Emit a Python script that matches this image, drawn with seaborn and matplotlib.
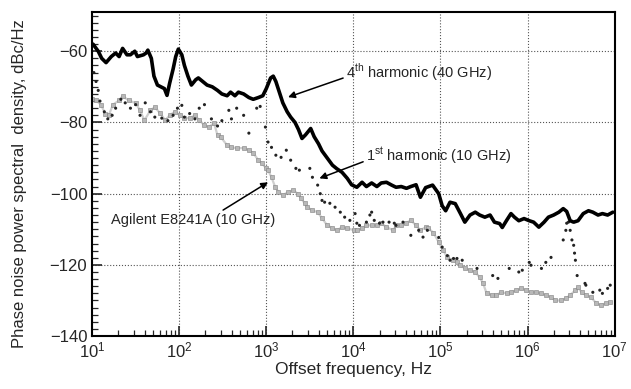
import numpy as np
import pandas as pd
import matplotlib
matplotlib.use('Agg')
import matplotlib.pyplot as plt
from matplotlib.ticker import LogLocator, NullFormatter, FixedLocator
import seaborn as sns

# log10 of offset frequency (Hz) and phase noise (dBc/Hz)
h4_logf = [1.01, 1.07, 1.11, 1.16, 1.22, 1.27, 1.31, 1.35, 1.40, 1.44, 1.49, 1.52, 1.59, 1.62, 1.64,
           1.68, 1.71, 1.75, 1.79, 1.83, 1.86, 1.89, 1.93, 1.96, 1.99, 2.03, 2.06, 2.10, 2.14, 2.19,
           2.22, 2.27, 2.32, 2.38, 2.44, 2.49, 2.55, 2.59, 2.64, 2.68, 2.74, 2.80, 2.85, 2.91, 2.96,
           3.00, 3.05, 3.08, 3.11, 3.15, 3.19, 3.24, 3.28, 3.33, 3.37, 3.41, 3.45, 3.51, 3.55, 3.60,
           3.64, 3.70, 3.76, 3.81, 3.87, 3.93, 3.98, 4.04, 4.10, 4.15, 4.21, 4.27, 4.32, 4.38, 4.44,
           4.49, 4.55, 4.61, 4.66, 4.72, 4.77, 4.83, 4.91, 4.98, 5.02, 5.06, 5.11, 5.17, 5.23, 5.28,
           5.34, 5.40, 5.45, 5.51, 5.57, 5.62, 5.68, 5.71, 5.76, 5.81, 5.85, 5.90, 5.96, 6.02, 6.07,
           6.13, 6.19, 6.24, 6.30, 6.36, 6.41, 6.45, 6.49, 6.53, 6.58, 6.64, 6.70, 6.75, 6.81, 6.86,
           6.92, 6.98]
h4_db = [-58, -60, -62, -63.2, -61.5, -60.5, -61.5, -59.2, -61, -61, -60, -61.5, -61, -60.5, -59.7,
         -62, -67, -69.5, -70, -70.5, -72.4, -69, -65, -61.5, -59.4, -61, -64, -67, -69.5, -68,
         -67.5, -68.5, -69.5, -70, -71, -72, -72.5, -71.5, -72.5, -71.5, -72, -73, -73.5, -73, -72.5,
         -70.5, -67.5, -67, -68.5, -71.5, -74.5, -77, -78.5, -80, -82, -84.5, -83.5, -81.7, -84, -86,
         -88, -90, -92, -93, -94, -95.7, -97.5, -98.2, -96.8, -98, -97, -98, -97, -96.8, -97.6,
         -98.2, -98, -98.5, -98, -97.5, -101, -98.3, -97.6, -100, -103.4, -104.8, -102.4, -102.8, -105.6, -108,
         -106, -105.2, -106, -106.6, -106, -108, -108.4, -109.5, -107.5, -105.6, -106.6, -107.6, -107, -107.6, -108,
         -109.4, -108, -106.6, -106, -105.2, -104.2, -105, -107.6, -108, -107.6, -105.6, -104.8, -105.2, -106, -105.6,
         -106, -105.2]

h1_logf = [1.02, 1.045, 1.07, 1.09, 1.14, 1.18, 1.23, 1.27, 1.33, 1.38, 1.44, 1.50, 1.55, 1.61, 1.67,
           1.72, 1.80, 1.87, 1.93, 1.98, 2.03, 2.06, 2.12, 2.18, 2.23, 2.29, 2.37, 2.44, 2.49, 2.57,
           2.60, 2.66, 2.74, 2.80, 2.89, 2.93, 2.99, 3.02, 3.06, 3.11, 3.17, 3.23, 3.28, 3.34, 3.38,
           3.50, 3.53, 3.59, 3.62, 3.64, 3.67, 3.73, 3.79, 3.85, 3.90, 3.96, 4.02, 4.04, 4.07, 4.15,
           4.19, 4.21, 4.24, 4.30, 4.34, 4.41, 4.47, 4.49, 4.57, 4.66, 4.75, 4.80, 4.85, 4.98, 5.02,
           5.08, 5.11, 5.15, 5.19, 5.25, 5.42, 5.60, 5.66, 5.79, 5.90, 5.94, 6.02, 6.04, 6.16, 6.21,
           6.27, 6.41, 6.44, 6.45, 6.47, 6.49, 6.51, 6.53, 6.54, 6.55, 6.57, 6.66, 6.67, 6.75, 6.83,
           6.86, 6.92, 6.95]
h1_db = [-66, -68.5, -71, -74, -77, -79, -78, -76, -73.5, -74.5, -76, -75, -78, -74.5, -77,
         -78.5, -78.8, -79.5, -78, -76, -75.2, -78.5, -77.5, -79, -76, -75, -79, -81, -79.5, -76.6,
         -79, -76, -78, -83, -76, -75.5, -81.3, -85.5, -87, -89.2, -89.8, -87.8, -90.6, -92.9, -93.4,
         -92.9, -95.4, -97.6, -100, -101.9, -102.4, -102.7, -103.8, -105.2, -106.6, -107.5, -105.6, -108.3, -108.9, -108,
         -106, -105.2, -107.5, -108.3, -108, -108, -108.3, -108.9, -108, -111.7, -110.3, -112.2, -110.3, -112.3, -115,
         -117.4, -118.7, -118.2, -118.2, -118.7, -121, -123, -123.8, -121, -122, -121.5, -119.3, -120.1, -121, -119.3,
         -117.9, -113, -110.3, -108.3, -108, -110.3, -113, -114.5, -116.7, -118.7, -123, -125.2, -125.7, -127.7, -127.1,
         -128, -126.6, -125.7]

ag_logf = [1.00, 1.045, 1.10, 1.15, 1.19, 1.24, 1.31, 1.35, 1.42, 1.50, 1.55, 1.60, 1.67, 1.72, 1.78,
           1.84, 1.89, 1.95, 2.01, 2.06, 2.12, 2.18, 2.23, 2.29, 2.34, 2.40, 2.44, 2.48, 2.55, 2.60,
           2.66, 2.74, 2.80, 2.85, 2.91, 2.95, 3.00, 3.02, 3.06, 3.10, 3.14, 3.19, 3.25, 3.31, 3.36,
           3.40, 3.44, 3.47, 3.53, 3.59, 3.64, 3.70, 3.76, 3.81, 3.87, 3.93, 4.01, 4.04, 4.10, 4.15,
           4.21, 4.27, 4.32, 4.38, 4.46, 4.49, 4.55, 4.60, 4.66, 4.72, 4.77, 4.83, 4.86, 4.92, 4.98,
           5.03, 5.08, 5.14, 5.19, 5.23, 5.28, 5.34, 5.40, 5.45, 5.49, 5.53, 5.59, 5.64, 5.70, 5.76,
           5.81, 5.87, 5.93, 5.98, 6.04, 6.10, 6.15, 6.21, 6.27, 6.32, 6.38, 6.44, 6.49, 6.55, 6.58,
           6.62, 6.67, 6.73, 6.79, 6.84, 6.90, 6.95]
ag_db = [-73.5, -73.8, -75, -77.5, -78, -75, -73.8, -72.6, -73.8, -74.6, -76.6, -79.4, -76.6, -75.7, -77.4,
         -79.4, -78, -77, -78, -78.8, -78.8, -78, -79.4, -80.8, -81.3, -80.2, -83.6, -84.2, -86.4, -87,
         -87.2, -87.2, -87.8, -88.6, -90.6, -91.5, -92.9, -93.4, -95.4, -98, -99.6, -100.4, -99.6, -99, -100,
         -101.3, -102.7, -103.8, -104.7, -105.2, -106.9, -108.9, -109.7, -110.3, -109.4, -109.7, -110.3, -110.3, -109.7, -108.9,
         -108.9, -108.9, -108.3, -109.4, -110.3, -108.9, -108.9, -108.3, -107.5, -108.9, -110.3, -109.4, -109.7, -111, -113.6,
         -115.9, -117.9, -118.7, -119.3, -120.1, -121, -121.5, -122, -123.5, -125.2, -128, -128.5, -128.5, -127.7, -128,
         -127.7, -127.1, -126.6, -127.1, -127.7, -127.7, -128, -128.5, -129.1, -130, -130, -129.4, -128.5, -127.1, -126.3,
         -127.7, -128.5, -129.1, -130.8, -131.3, -130.8, -130.5]

x_ticks = [1e1, 1e2, 1e3, 1e4, 1e5, 1e6, 1e7]
y_ticks = [-140, -120, -100, -80, -60]

h4 = pd.DataFrame({'f': np.power(10.0, h4_logf), 'L': h4_db})
h1 = pd.DataFrame({'f': np.power(10.0, h1_logf), 'L': h1_db})
ag = pd.DataFrame({'f': np.power(10.0, ag_logf), 'L': ag_db})

sns.set_style('ticks')
plt.rcParams['font.family'] = ['Liberation Sans', 'DejaVu Sans']
plt.rcParams['mathtext.fontset'] = 'custom'
plt.rcParams['mathtext.rm'] = 'Liberation Sans'

fig = plt.figure(figsize=(6.31, 3.89), dpi=100)
ax = fig.add_axes([0.146, 0.136, 0.828, 0.833])

# Agilent trace: faint band of small hatched-looking squares
sns.lineplot(data=ag, x='f', y='L', ax=ax, color='#cfcfcf', linewidth=1.6,
             estimator=None, sort=False, zorder=2)
sns.scatterplot(data=ag, x='f', y='L', ax=ax, marker='s', s=7, color='#b8b8b8',
                edgecolor='#808080', linewidth=0.4, zorder=2)
sns.scatterplot(data=h1, x='f', y='L', ax=ax, marker='o', s=5, color='#222222',
                edgecolor='none', zorder=3)
sns.lineplot(data=h4, x='f', y='L', ax=ax, color='black', linewidth=2.6,
             estimator=None, sort=False, zorder=4)

ax.set_xscale('log')
ax.set_xlim(10, 1e7)
ax.set_ylim(-140, -49)
ax.xaxis.set_major_locator(FixedLocator(x_ticks))
ax.xaxis.set_minor_locator(LogLocator(base=10, subs=np.arange(2, 10), numticks=20))
ax.xaxis.set_minor_formatter(NullFormatter())
ax.set_yticks(y_ticks)
ax.set_yticks(np.arange(-140, -48, 2), minor=True)
ax.grid(True, which='major', linestyle=':', color='#555555', linewidth=0.8)
ax.tick_params(which='both', direction='in', left=True, bottom=True, labelsize=12)
ax.tick_params(which='major', length=7, width=1.2)
ax.tick_params(which='minor', length=4, width=0.9)
for sp in ax.spines.values():
    sp.set_linewidth(1.5)
    sp.set_color('black')

ax.set_xlabel('Offset frequency, Hz', fontsize=12.5, labelpad=1)
ax.set_ylabel('Phase noise power spectral  density, dBc/Hz', fontsize=12)
ax.yaxis.set_label_coords(-0.125, 0.47)

arrow = dict(arrowstyle='-|>', color='black', lw=1.1, mutation_scale=10, shrinkA=0, shrinkB=0)
ax.annotate('4$^{\\mathregular{th}}$ harmonic (40 GHz)', xy=(10**3.25, -72.9),
            xytext=(10**3.92, -66), fontsize=10.5, ha='left', va='center',
            arrowprops=dict(arrow, relpos=(0, 0.3)))
ax.annotate('1$^{\\mathregular{st}}$ harmonic (10 GHz)', xy=(10**3.61, -95.7),
            xytext=(10**4.15, -89.5), fontsize=10.5, ha='left', va='center',
            arrowprops=dict(arrow, relpos=(0, 0.3)))
ax.annotate('Agilent E8241A (10 GHz)', xy=(10**3.02, -96.8),
            xytext=(10**2.16, -107.5), fontsize=10.5, ha='center', va='center',
            arrowprops=dict(arrow, relpos=(0.65, 1.0)))

fig.savefig('out.png', dpi=100)
